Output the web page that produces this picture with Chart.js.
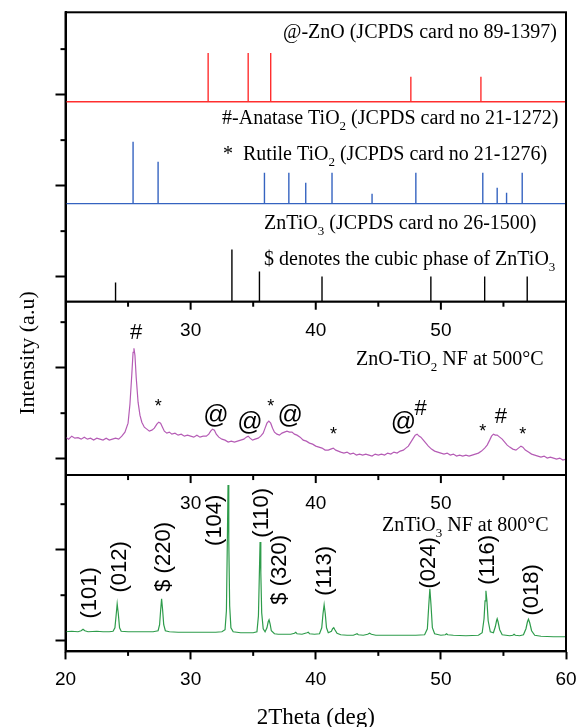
<!DOCTYPE html>
<html>
<head>
<meta charset="utf-8">
<script src="https://cdn.jsdelivr.net/npm/chart.js@4.4.1/dist/chart.umd.min.js"></script>
<style>
  html, body { margin: 0; padding: 0; background: #fff; }
  #wrap { width: 576px; height: 727px; }
</style>
</head>
<body>
<div id="wrap"><canvas id="xrd" width="576" height="727"></canvas></div>
<script>
// reference cards: stick positions (2theta) and heights (a.u.)
var znoPos = [31.4, 34.6, 36.4, 47.6, 53.2];
var znoInt = [49, 49, 49, 25, 25];
var tio2Pos = [25.4, 27.4, 35.9, 37.85, 39.2, 41.3, 44.5, 48.0, 53.35, 54.5, 55.25, 56.5];
var tio2Int = [62, 42, 31, 31, 21, 31, 10, 31, 31, 16, 11, 31];
var zntio3Pos = [24.0, 33.3, 35.5, 40.5, 49.2, 53.5, 56.9];
var zntio3Int = [19, 52, 30, 25, 25, 25, 25];

// ZnO-TiO2 NF at 500C
var tt500 = [20.0, 20.25, 20.5, 20.75, 21.0, 21.25, 21.5, 21.75, 22.0, 22.25, 22.5, 22.75, 23.0, 23.25, 23.5, 23.75,
  24.0, 24.25, 24.5, 24.75, 25.0, 25.15, 25.3, 25.4, 25.47, 25.55, 25.65, 25.8, 25.95, 26.1, 26.3, 26.5, 26.7, 26.9,
  27.1, 27.3, 27.45, 27.6, 27.75, 27.9, 28.1, 28.3, 28.5, 28.75, 29.0, 29.25, 29.5, 29.75, 30.0, 30.25, 30.5, 30.75,
  31.0, 31.25, 31.45, 31.6, 31.75, 31.9, 32.05, 32.25, 32.5, 32.75, 33.0, 33.25, 33.5, 33.75, 34.0, 34.25, 34.45,
  34.6, 34.75, 34.95, 35.15, 35.4, 35.6, 35.8, 35.95, 36.1, 36.25, 36.4, 36.55, 36.7, 36.9, 37.1, 37.3, 37.5, 37.7,
  37.9, 38.1, 38.3, 38.5, 38.75, 39.0, 39.25, 39.5, 39.75, 40.0, 40.25, 40.5, 40.75, 41.0, 41.2, 41.4, 41.6, 41.8,
  42.0, 42.25, 42.5, 42.75, 43.0, 43.25, 43.5, 43.75, 44.0, 44.25, 44.5, 44.75, 45.0, 45.25, 45.5, 45.75, 46.0,
  46.25, 46.5, 46.75, 47.0, 47.2, 47.4, 47.6, 47.8, 47.95, 48.1, 48.25, 48.4, 48.6, 48.8, 49.0, 49.25, 49.5, 49.75,
  50.0, 50.25, 50.5, 50.75, 51.0, 51.25, 51.5, 51.75, 52.0, 52.25, 52.5, 52.75, 53.0, 53.25, 53.5, 53.7, 53.9,
  54.05, 54.2, 54.35, 54.5, 54.7, 54.9, 55.1, 55.3, 55.5, 55.75, 56.0, 56.2, 56.4, 56.55, 56.75, 57.0, 57.25, 57.5,
  57.75, 58.0, 58.25, 58.5, 58.75, 59.0, 59.25, 59.5, 59.75, 60.0];
var int500 = [34, 32, 35, 33, 33.5, 32, 34, 32, 33, 31, 33, 32, 31, 33, 31, 32,
  33, 32, 35, 39, 48, 67, 97, 119, 123, 116, 94, 69, 56, 49, 44, 42, 40, 41,
  43, 47, 49, 48, 44, 40, 38, 39, 37, 38, 36, 37, 35, 36, 35, 34, 36, 34,
  35, 35, 37, 40, 42, 41, 37, 34, 32, 31, 29, 30, 29, 30, 31, 32, 34,
  35, 33, 31, 32, 33, 35, 38, 43, 48, 50, 48, 43, 39, 37, 36, 38, 39, 40,
  39, 39, 37, 36, 34, 31, 30, 28, 27, 25, 24, 23, 21, 21, 22, 23, 21, 20,
  19, 18, 19, 17, 18, 16, 17, 16, 17, 16, 15, 17, 16, 17, 16, 18, 17,
  19, 18, 20, 21, 23, 25, 29, 33, 36, 37, 35, 34, 31, 28, 25, 22, 20, 19,
  18, 17, 18, 16, 17, 15, 16, 15, 16, 15, 16, 17, 18, 20, 23, 26, 31,
  35, 37, 36, 36, 34, 32, 29, 26, 24, 22, 21, 23, 25, 24, 21, 19, 17, 16,
  15, 14, 15, 13, 14, 13, 12, 13, 11, 12];

// ZnTiO3 NF at 800C
var tt800 = [20.0, 20.5, 21.0, 21.25, 21.4, 21.55, 21.8, 22.5, 23.0, 23.5, 23.8, 23.95, 24.05, 24.13, 24.22, 24.32,
  24.45, 25.0, 26.0, 27.0, 27.4, 27.52, 27.6, 27.68, 27.76, 27.85, 27.98, 28.3, 29.0, 30.0, 31.0, 32.0, 32.5, 32.75,
  32.86, 32.93, 32.99, 33.05, 33.12, 33.22, 33.4, 34.0, 35.0, 35.3, 35.42, 35.49, 35.55, 35.61, 35.68, 35.8, 35.95,
  36.1, 36.2, 36.27, 36.35, 36.45, 36.7, 37.0, 37.5, 38.0, 38.3, 38.4, 38.5, 38.9, 39.3, 39.4, 39.5, 39.9, 40.3,
  40.48, 40.58, 40.67, 40.76, 40.86, 41.0, 41.25, 41.35, 41.44, 41.53, 41.7, 42.0, 42.5, 43.0, 43.2, 43.3, 43.4,
  43.8, 44.15, 44.3, 44.45, 44.8, 46.0, 47.0, 48.0, 48.7, 48.92, 49.03, 49.12, 49.21, 49.32, 49.5, 50.0, 50.35,
  50.45, 50.55, 51.0, 52.0, 53.0, 53.3, 53.45, 53.53, 53.6, 53.68, 53.78, 53.95, 54.2, 54.35, 54.45, 54.5, 54.57,
  54.7, 54.9, 55.5, 55.75, 55.85, 55.95, 56.3, 56.6, 56.8, 56.92, 57.0, 57.1, 57.25, 57.5, 58.0, 59.0, 60.0];
var int800 = [9, 9.5, 9, 10, 11.5, 10, 9, 9.5, 9, 9, 9.5, 13, 26, 37, 27, 13,
  9.5, 9, 9, 9, 10, 16, 30, 42, 31, 16, 10, 9, 8.5, 8.5, 8.5, 8.5, 9, 11,
  30, 95, 156, 100, 35, 13, 9, 8, 8, 9, 25, 65, 99, 68, 28, 12, 9,
  13, 19, 21, 17, 10, 7, 6.5, 6.5, 6.5, 7.5, 8.5, 7, 6.5, 8, 8.5, 7, 6.5, 7,
  13, 27, 36, 27, 13, 8, 9.5, 12, 13, 11, 7.5, 6, 5.5, 5.5, 6.5, 7, 6,
  5.5, 6.5, 7.5, 6.5, 5.5, 5.5, 5.5, 5.5, 6, 12, 35, 52, 36, 13, 7, 5.5, 6,
  7, 6, 5.5, 5, 5.5, 8, 22, 40, 50, 40, 20, 9, 8, 14, 20, 22, 19,
  11, 6, 5, 5.5, 6.5, 5.5, 5, 6, 12, 19, 21.5, 18, 10, 5.5, 4.5, 4, 4];

var xLabels = [20, 30, 40, 50, 60];
var xMinor = [25, 35, 45, 55];
var yMajor = [0, 91.2, 182.4, 273.6, 364.8, 456, 547.2];
var yMinor = [45.6, 136.8, 228, 319.2, 410.4, 501.6, 592.8];

// vertical offsets of the stacked patterns and panel dividers (a.u.)
var offsets = { zno: 540, tio2: 438, zntio3: 340, nf500: 170, nf800: 0 };
var dividers = [166, 339.7];

var sans = "'Liberation Sans', Arial, sans-serif";
var serif = "'Liberation Serif', 'Times New Roman', serif";

var captions = [
    { text: '@-ZnO (JCPDS card no 89-1397)', x: 37.38, y: 609 },
    { text: '#-Anatase TiO_2 (JCPDS card no 21-1272)', x: 32.51, y: 523 },
    { text: '*  Rutile TiO_2 (JCPDS card no 21-1276)', x: 32.59, y: 486.5 },
    { text: 'ZnTiO_3 (JCPDS card no 26-1500)', x: 35.87, y: 418 },
    { text: '$ denotes the cubic phase of ZnTiO_3', x: 35.87, y: 381.5 },
    { text: 'ZnO-TiO_2 NF at 500°C', x: 43.22, y: 283 },
    { text: 'ZnTiO_3 NF at 800°C', x: 45.3, y: 117 }
];

var marks500 = [
    { t: '#', x: 25.64, y: 310.3, s: 22 }, { t: '*', x: 27.42, y: 238.7, s: 18 },
    { t: '@', x: 32.03, y: 225.3, s: 25 }, { t: '@', x: 34.75, y: 218.7, s: 25 },
    { t: '*', x: 36.4, y: 238.7, s: 18 }, { t: '@', x: 37.95, y: 225.3, s: 25 },
    { t: '*', x: 41.41, y: 211, s: 18 }, { t: '@', x: 47.0, y: 218.7, s: 25 },
    { t: '#', x: 48.39, y: 233.7, s: 22 }, { t: '*', x: 53.35, y: 213.7, s: 18 },
    { t: '#', x: 54.79, y: 225.3, s: 22 }, { t: '*', x: 56.55, y: 210.3, s: 18 }
];

var hkl800 = [
    { t: '(101)', x: 21.96, y: 48 }, { t: '(012)', x: 24.41, y: 74 },
    { t: '$ (220)', x: 27.95, y: 84 }, { t: '(104)', x: 31.95, y: 120.7 },
    { t: '(110)', x: 35.71, y: 128.2 }, { t: '$ (320)', x: 37.15, y: 71 },
    { t: '(113)', x: 40.74, y: 70 }, { t: '(024)', x: 49.06, y: 78 },
    { t: '(116)', x: 53.77, y: 81 }, { t: '(018)', x: 57.29, y: 51 }
];

function sticks(pos, ints, base) {
    var pts = [{ x: 20, y: base }];
    pos.forEach(function(p, i) {
        pts.push({ x: p, y: base }, { x: p, y: base + ints[i] }, { x: p, y: base });
    });
    pts.push({ x: 60, y: base });
    return pts;
}

function curve(xs, ys, base) {
    return xs.map(function(v, i) { return { x: v, y: ys[i] + base }; });
}

// centre a text vertically on y using its real ink box
function centredBaseline(ctx, str, y) {
    var m = ctx.measureText(str);
    return y + (m.actualBoundingBoxAscent - m.actualBoundingBoxDescent) / 2;
}

// text with '_c' subscripts
function drawRich(ctx, str, x, yc, size) {
    var parts = str.split(/_(.)/);
    ctx.font = size + 'px ' + serif;
    var plain = parts.filter(function(p, i) { return i % 2 === 0; }).join('');
    var base = centredBaseline(ctx, plain, yc);
    ctx.textAlign = 'left';
    ctx.textBaseline = 'alphabetic';
    parts.forEach(function(p, i) {
        if (i % 2 === 0) {
            ctx.font = size + 'px ' + serif;
            ctx.fillText(p, x, base);
            x += ctx.measureText(p).width;
        } else {
            ctx.font = Math.round(size * 0.65) + 'px ' + serif;
            ctx.fillText(p, x, base + size * 0.3);
            x += ctx.measureText(p).width;
        }
    });
}

var panelPlugin = {
    id: 'panels',
    afterDraw: function(chart) {
        var ctx = chart.ctx, a = chart.chartArea;
        var xs = chart.scales.x, ys = chart.scales.y;
        ctx.save();
        ctx.strokeStyle = '#000';
        ctx.fillStyle = '#000';
        ctx.lineWidth = 2;
        ctx.strokeRect(a.left, a.top, a.right - a.left, a.bottom - a.top);

        function seg(x1, y1, x2, y2) {
            ctx.beginPath(); ctx.moveTo(x1, y1); ctx.lineTo(x2, y2); ctx.stroke();
        }

        // dividers with their own inner x ticks and labels
        dividers.forEach(function(v) {
            var py = ys.getPixelForValue(v);
            ctx.lineWidth = 2;
            seg(a.left, py, a.right, py);
            xLabels.concat(xMinor).forEach(function(t) {
                if (t <= 20 || t >= 60) return;
                var px = xs.getPixelForValue(t);
                seg(px, py, px, py + (t % 10 === 0 ? 8 : 5));
            });
            ctx.font = '19px ' + sans;
            ctx.textAlign = 'center';
            ctx.textBaseline = 'alphabetic';
            [30, 40, 50].forEach(function(t) {
                ctx.fillText(String(t), xs.getPixelForValue(t), centredBaseline(ctx, '30', py + 27.5));
            });
        });

        // minor ticks on the outer axes
        ctx.lineWidth = 2;
        yMinor.forEach(function(v) {
            var py = ys.getPixelForValue(v);
            seg(a.left - 5, py, a.left, py);
        });
        xMinor.forEach(function(t) {
            var px = xs.getPixelForValue(t);
            seg(px, a.bottom, px, a.bottom + 4.5);
        });

        // y title
        ctx.save();
        ctx.translate(29, 353);
        ctx.rotate(-Math.PI / 2);
        ctx.font = '22px ' + serif;
        ctx.textAlign = 'center';
        ctx.fillText('Intensity (a.u)', 0, centredBaseline(ctx, 'Intensity (a.u)', 0));
        ctx.restore();

        captions.forEach(function(c) {
            drawRich(ctx, c.text, xs.getPixelForValue(c.x), ys.getPixelForValue(c.y), 20);
        });

        ctx.textAlign = 'center';
        marks500.forEach(function(m) {
            ctx.font = m.s + 'px ' + sans;
            ctx.fillText(m.t, xs.getPixelForValue(m.x), centredBaseline(ctx, m.t, ys.getPixelForValue(m.y)));
        });

        ctx.font = '22px ' + sans;
        hkl800.forEach(function(h) {
            ctx.save();
            ctx.translate(xs.getPixelForValue(h.x), ys.getPixelForValue(h.y));
            ctx.rotate(-Math.PI / 2);
            ctx.fillText(h.t, 0, centredBaseline(ctx, h.t, 0));
            ctx.restore();
        });
        ctx.restore();
    }
};

var ctx = document.getElementById('xrd').getContext('2d');
var xrdChart = new Chart(ctx, {
    type: 'line',
    data: {
        datasets: [
            { label: 'ZnO', data: sticks(znoPos, znoInt, offsets.zno), borderColor: '#ff2e2e', borderWidth: 1.4 },
            { label: 'TiO2', data: sticks(tio2Pos, tio2Int, offsets.tio2), borderColor: '#3563c0', borderWidth: 1.4 },
            { label: 'ZnTiO3', data: sticks(zntio3Pos, zntio3Int, offsets.zntio3), borderColor: '#000', borderWidth: 1.4 },
            { label: '500', data: curve(tt500, int500, offsets.nf500), borderColor: '#b55cb5', borderWidth: 1.2 },
            { label: '800', data: curve(tt800, int800, offsets.nf800), borderColor: '#2e9c4b', borderWidth: 1.2 }
        ]
    },
    options: {
        responsive: false,
        animation: false,
        layout: { padding: { left: 55.5, right: 10, top: 12.3, bottom: 0 } },
        elements: { point: { radius: 0 }, line: { tension: 0 } },
        plugins: { legend: { display: false }, tooltip: { enabled: false } },
        scales: {
            x: {
                type: 'linear',
                min: 20,
                max: 60,
                border: { color: '#000', width: 2 },
                grid: {
                    drawOnChartArea: false,
                    tickLength: 8,
                    tickWidth: 2,
                    tickColor: function(c) {
                        return c.tick && xLabels.indexOf(c.tick.value) >= 0 ? '#000' : 'rgba(0,0,0,0)';
                    }
                },
                ticks: {
                    stepSize: 5,
                    autoSkip: false,
                    maxRotation: 0,
                    padding: 9,
                    color: '#000',
                    font: { family: sans, size: 19 },
                    callback: function(v) { return xLabels.indexOf(v) >= 0 ? String(v) : ''; }
                },
                title: {
                    display: true,
                    text: '2Theta (deg)',
                    color: '#000',
                    font: { family: serif, size: 23, lineHeight: 1 },
                    padding: { top: 5.8, bottom: -2 }
                },
                afterFit: function(s) {
                    // end labels may overhang the frame, as in the original
                    s.paddingLeft = 0;
                    s.paddingRight = 0;
                }
            },
            y: {
                min: -10.7,
                max: 629.7,
                border: { color: '#000', width: 2 },
                grid: { drawOnChartArea: false, tickLength: 10, tickWidth: 2, color: '#000' },
                ticks: { display: false },
                afterBuildTicks: function(s) {
                    s.ticks = yMajor.map(function(v) { return { value: v }; });
                }
            }
        }
    },
    plugins: [panelPlugin]
});
</script>
</body>
</html>
